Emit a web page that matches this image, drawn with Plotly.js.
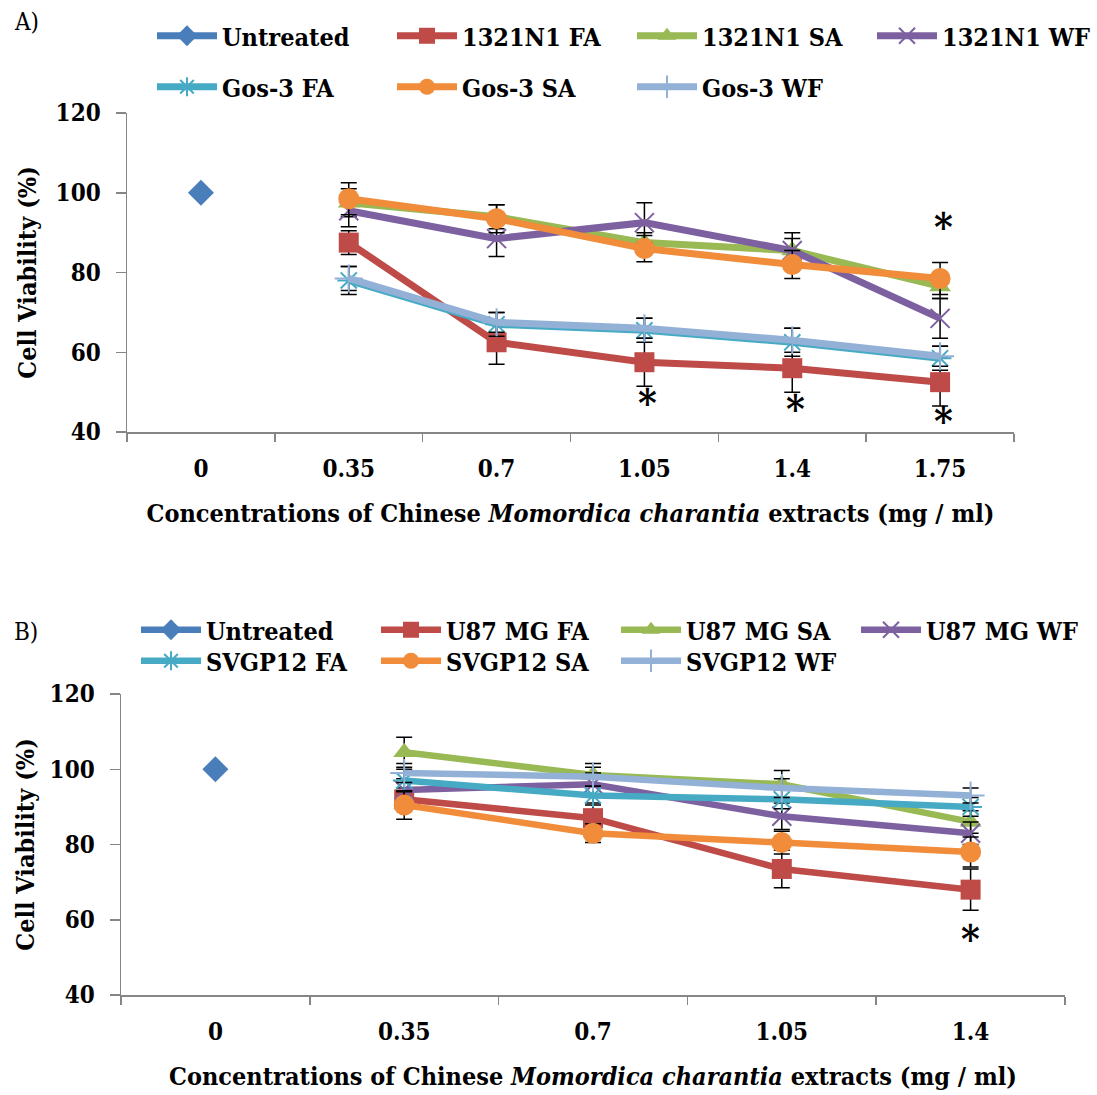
<!DOCTYPE html>
<html>
<head>
<meta charset="utf-8">
<script src="https://cdn.plot.ly/plotly-3.0.1.min.js"></script>
<style>html,body{margin:0;padding:0;background:#fff;}#chart{width:1097px;height:1095px;}</style>
</head>
<body>
<div id="chart"></div>
<script>
// ---------- Data: panel A ----------
const catsA = ['0', '0.35', '0.7', '1.05', '1.4', '1.75'];
const untreatedA = [100];
const n1321FA = [87.5, 62.5, 57.5, 56, 52.5];
const n1321FA_err = [3, 5.5, 6, 6, 6];
const n1321SA = [97.5, 94, 87.5, 85.5, 76.5];
const n1321SA_err = [3.5, 3, 2.5, 3, 3];
const n1321WF = [95.5, 88.5, 92.5, 85.5, 68.5];
const n1321WF_err = [4, 4.5, 5, 4.5, 5];
const gosFA = [78, 67, 65.5, 62.5, 58.5];
const gosFA_err = [3.5, 3, 3, 3.5, 3];
const gosSA = [98.5, 93.5, 86, 82, 78.5];
const gosSA_err = [4, 3.5, 3.3, 3.5, 4];
const gosWF = [78.5, 67.5, 66, 63, 59];
const gosWF_err = [3, 2.5, 2.5, 3, 2.5];
const starsA_x = ['1.05', '1.4', '1.75', '1.75'];
const starsA_y = [49, 47.5, 93, 44.5];

// ---------- Data: panel B ----------
const catsB = ['0', '0.35', '0.7', '1.05', '1.4'];
const untreatedB = [100];
const u87FA = [92, 87, 73.5, 68];
const u87FA_err = [3, 4, 5, 5.5];
const u87SA = [104.5, 98.5, 96, 86];
const u87SA_err = [4, 3, 3.7, 3];
const u87WF = [94.5, 96, 87.5, 83];
const u87WF_err = [3, 3, 3.5, 3];
const svFA = [97, 93, 92, 90];
const svFA_err = [3, 2.5, 2.5, 2.5];
const svSA = [90.5, 83, 80.5, 78];
const svSA_err = [3.8, 2.5, 3, 4];
const svWF = [99, 98, 95, 93];
const svWF_err = [2.5, 2.5, 2.5, 2];
const starsB_x = ['1.4'];
const starsB_y = [56.5];

const namesA = ['Untreated', '1321N1 FA', '1321N1 SA', '1321N1 WF', 'Gos-3 FA', 'Gos-3 SA', 'Gos-3 WF'];
const namesB = ['Untreated', 'U87 MG FA', 'U87 MG SA', 'U87 MG WF', 'SVGP12 FA', 'SVGP12 SA', 'SVGP12 WF'];

// ---------- Styles ----------
const colors = ['#4A7EBB', '#BE4B48', '#98B954', '#7D60A0', '#46AAC5', '#F08C3A', '#93B1D6'];
const symbols = ['diamond', 'square', 'triangle-up', 'x-thin', 'asterisk', 'circle', 'cross-thin'];
const msizes = [20, 20, 19, 19, 19, 21, 20];
const FONT = '"DejaVu Serif Condensed", "DejaVu Serif", "Liberation Serif", serif';

// legend ids: row 1 (first three items), row 1 last item, row 2
function legendFor(i, ids) { return i < 3 ? ids[0] : (i === 3 ? ids[1] : ids[2]); }

function mk(x, y, err, i, names, xa, ya, ids, lw) {
  const thin = symbols[i].indexOf('thin') >= 0 || symbols[i] === 'asterisk';
  const t = {
    type: 'scatter', mode: 'lines+markers', x: x, y: y, name: names[i],
    xaxis: xa, yaxis: ya,
    legend: legendFor(i, ids),
    line: {color: colors[i], width: lw},
    marker: {symbol: symbols[i], color: colors[i], size: msizes[i],
             line: {color: colors[i], width: thin ? 2 : 0}},
    cliponaxis: false
  };
  if (err) {
    t.error_y = {type: 'data', array: err, visible: true, color: '#000', thickness: 1.5, width: 8};
  }
  return t;
}

const idsA = ['legend', 'legend2', 'legend3'];
const idsB = ['legend4', 'legend5', 'legend6'];
const xsA = catsA.slice(1), xsB = catsB.slice(1);
const data = [
  mk(['0'], untreatedA, null, 0, namesA, 'x', 'y', idsA, 7),
  mk(xsA, n1321FA, n1321FA_err, 1, namesA, 'x', 'y', idsA, 7),
  mk(xsA, n1321SA, n1321SA_err, 2, namesA, 'x', 'y', idsA, 7),
  mk(xsA, n1321WF, n1321WF_err, 3, namesA, 'x', 'y', idsA, 7),
  mk(xsA, gosFA, gosFA_err, 4, namesA, 'x', 'y', idsA, 7),
  mk(xsA, gosSA, gosSA_err, 5, namesA, 'x', 'y', idsA, 7),
  mk(xsA, gosWF, gosWF_err, 6, namesA, 'x', 'y', idsA, 7),
  mk(['0'], untreatedB, null, 0, namesB, 'x2', 'y2', idsB, 6.5),
  mk(xsB, u87FA, u87FA_err, 1, namesB, 'x2', 'y2', idsB, 6.5),
  mk(xsB, u87SA, u87SA_err, 2, namesB, 'x2', 'y2', idsB, 6.5),
  mk(xsB, u87WF, u87WF_err, 3, namesB, 'x2', 'y2', idsB, 6.5),
  mk(xsB, svFA, svFA_err, 4, namesB, 'x2', 'y2', idsB, 6.5),
  mk(xsB, svSA, svSA_err, 5, namesB, 'x2', 'y2', idsB, 6.5),
  mk(xsB, svWF, svWF_err, 6, namesB, 'x2', 'y2', idsB, 6.5)
];

const W = 1097, H = 1095;
const px = v => v / W, py = v => 1 - v / H;

const tickFont = {family: FONT, size: 24, color: '#000', weight: 'bold'};
const titleFont = {family: FONT, size: 25, color: '#000', weight: 'bold'};
const xTitle = 'Concentrations of Chinese <i>Momordica charantia</i> extracts (mg / ml)';

function xaxis(cats, domain, anchor, standoff) {
  return {
    type: 'category', categoryorder: 'array', categoryarray: cats,
    range: [-0.5, cats.length - 0.5], domain: domain, anchor: anchor,
    showline: true, linecolor: '#868686', linewidth: 1.5,
    ticks: 'outside', tickson: 'boundaries', ticklen: 8, tickcolor: '#868686', tickwidth: 1.5,
    showgrid: false, zeroline: false, tickfont: tickFont, ticklabelstandoff: 15,
    title: {text: xTitle, font: titleFont, standoff: standoff},
    automargin: false, fixedrange: true
  };
}
function yaxis(domain, anchor, standoff) {
  return {
    range: [40, 120], dtick: 20, domain: domain, anchor: anchor,
    showline: true, linecolor: '#868686', linewidth: 1.5,
    ticks: 'outside', ticklen: 10, tickcolor: '#868686', tickwidth: 1.5,
    showgrid: false, zeroline: false, tickfont: tickFont, ticklabelstandoff: 10,
    title: {text: 'Cell Viability (%)', font: titleFont, standoff: standoff},
    automargin: false, fixedrange: true
  };
}

function legendAt(x, y, fixedWidth) {
  const l = {
    orientation: 'h', x: x, y: y, xanchor: 'left', yanchor: 'middle',
    font: {family: FONT, size: 25, color: '#000', weight: 'bold'},
    itemwidth: 60,
    bgcolor: 'rgba(0,0,0,0)', borderwidth: 0, traceorder: 'normal', itemclick: false
  };
  if (fixedWidth) { l.entrywidth = 165; l.entrywidthmode = 'pixels'; }
  return l;
}

const annotations = [];
const starFont = {family: FONT, size: 40, color: '#000', weight: 'bold'};
starsA_x.forEach((c, k) => annotations.push({
  x: catsA.indexOf(c), y: starsA_y[k], xref: 'x', yref: 'y', text: '*', showarrow: false,
  font: starFont, yanchor: 'middle', yshift: -6, xshift: 3
}));
starsB_x.forEach((c, k) => annotations.push({
  x: catsB.indexOf(c), y: starsB_y[k], xref: 'x2', yref: 'y2', text: '*', showarrow: false,
  font: starFont, yanchor: 'middle', yshift: -6
}));
annotations.push({x: px(12), y: py(22), xref: 'paper', yref: 'paper', text: 'A)', showarrow: false,
  xanchor: 'left', yanchor: 'middle', font: {family: FONT, size: 24, color: '#000'}});
annotations.push({x: px(12), y: py(632), xref: 'paper', yref: 'paper', text: 'B)', showarrow: false,
  xanchor: 'left', yanchor: 'middle', font: {family: FONT, size: 24, color: '#000'}});

const layout = {
  width: W, height: H,
  margin: {l: 0, r: 0, t: 0, b: 0},
  paper_bgcolor: '#fff', plot_bgcolor: '#fff',
  font: {family: FONT, color: '#000'},
  showlegend: true,
  xaxis: xaxis(catsA, [px(127), px(1014)], 'y', 22),
  yaxis: yaxis([py(432), py(113)], 'x', 12),
  xaxis2: xaxis(catsB, [px(121), px(1065)], 'y2', 22),
  yaxis2: yaxis([py(995), py(694)], 'x2', 8),
  legend: legendAt(px(152), py(36), true),
  legend2: legendAt(px(152 + 3 * 240), py(36), false),
  legend3: legendAt(px(152), py(87), true),
  legend4: legendAt(px(136), py(630), true),
  legend5: legendAt(px(136 + 3 * 240), py(630), false),
  legend6: legendAt(px(136), py(661), true),
  annotations: annotations
};

Plotly.newPlot('chart', data, layout, {displayModeBar: false, staticPlot: true});
</script>
</body>
</html>
